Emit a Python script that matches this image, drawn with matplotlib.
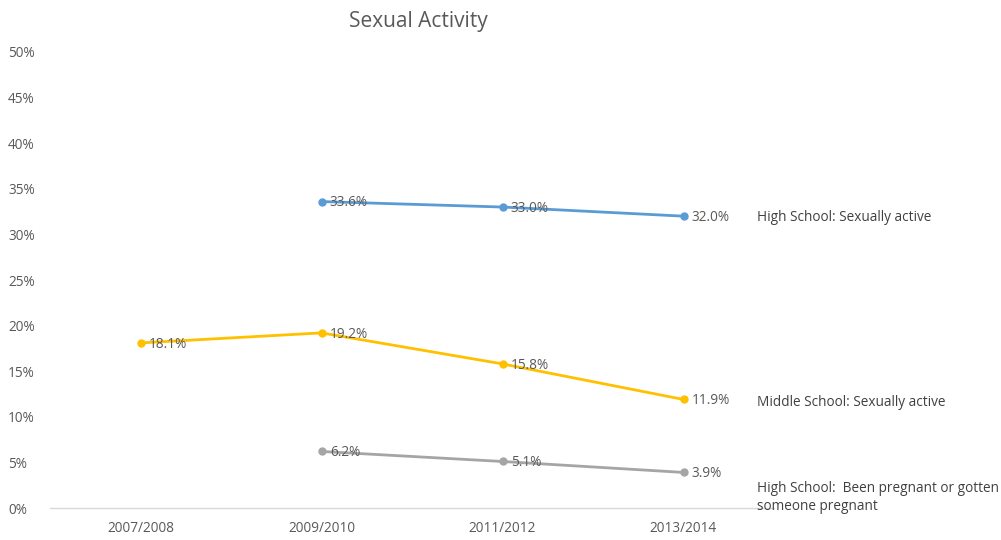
import matplotlib.pyplot as plt

plt.rcParams['font.family'] = ['Open Sans', 'DejaVu Sans']

years = ["2007/2008", "2009/2010", "2011/2012", "2013/2014"]
hs_active = [None, 33.6, 33.0, 32.0]
ms_active = [18.1, 19.2, 15.8, 11.9]
hs_pregnant = [None, 6.2, 5.1, 3.9]

series_names = ["High School: Sexually active",
                "Middle School: Sexually active",
                "High School:  Been pregnant or gotten\nsomeone pregnant"]
colors = ["#5B9BD5", "#FFC000", "#A5A5A5"]
y_ticks = [0, 5, 10, 15, 20, 25, 30, 35, 40, 45, 50]


def plot_series(ax, values, color):
    xs = [i + 0.5 for i, v in enumerate(values) if v is not None]
    ys = [v for v in values if v is not None]
    ax.plot(xs, ys, color=color, linewidth=2, marker="o", markersize=5, zorder=3)
    for x, y in zip(xs, ys):
        ax.annotate("%.1f%%" % y, (x, y), xytext=(6, -1), textcoords="offset points",
                    va="center", ha="left", fontsize=9.8, color="#595959", zorder=4)
    return xs[-1], ys[-1]


fig = plt.figure(figsize=(10.01, 5.4), dpi=100)
ax = fig.add_axes([50 / 1001, 32 / 540, 724 / 1001, 456 / 540])

all_series = [hs_active, ms_active, hs_pregnant]
name_offsets = [(53, -1), (53, -2), (53, -6)]
name_va = ["center", "center", "top"]
for values, color, name, off, va in zip(all_series, colors, series_names, name_offsets, name_va):
    lx, ly = plot_series(ax, values, color)
    ax.annotate(name, (lx, ly), xytext=off, textcoords="offset points",
                va=va, ha="left", fontsize=9.8, color="#404040",
                annotation_clip=False, linespacing=1.25)

ax.set_xlim(0, 4)
ax.set_ylim(0, 50)
ax.set_xticks([i + 0.5 for i in range(len(years))])
ax.set_xticklabels(years)
ax.set_yticks(y_ticks)
ax.set_yticklabels(["%d%%" % t for t in y_ticks])
ax.tick_params(axis="both", length=0, labelsize=9.8, colors="#595959")
ax.tick_params(axis="x", pad=9)
for s in ["top", "right", "left"]:
    ax.spines[s].set_visible(False)
ax.spines["bottom"].set_color("#D9D9D9")
ax.spines["bottom"].set_linewidth(1)
for lbl in ax.get_yticklabels():
    lbl.set_horizontalalignment("left")
    lbl.set_x(-42 / 724)
ax.tick_params(axis="y", pad=0)

fig.text(418 / 1001, 1 - 21 / 540, "Sexual Activity", ha="center", va="center",
         fontsize=15, color="#595959")

fig.savefig("out.png", dpi=100)
